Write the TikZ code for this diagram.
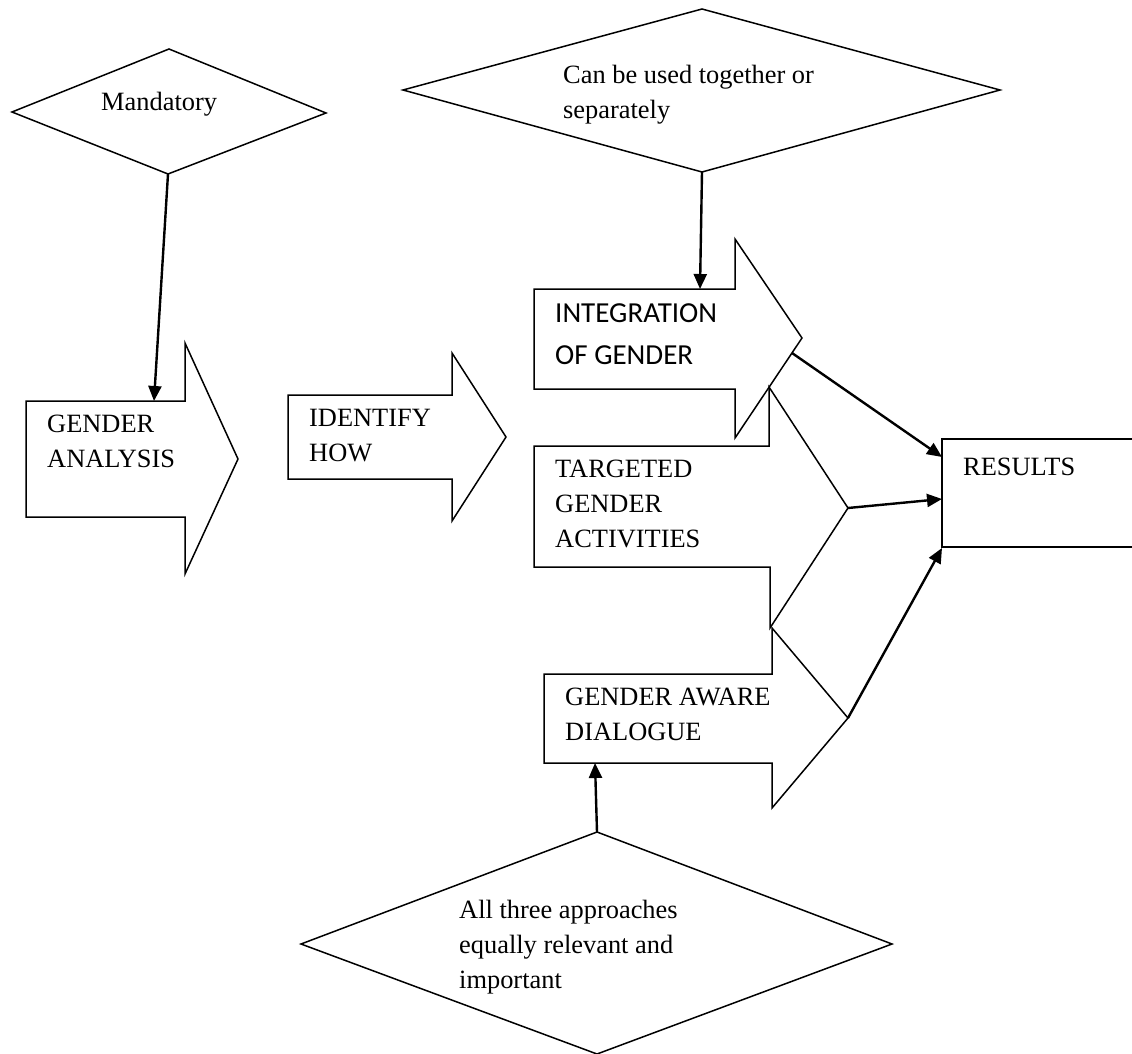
\documentclass[tikz,border=0pt]{standalone}
\usepackage{fontspec}
\setmainfont{Liberation Serif}
\newfontfamily\calib{Carlito}
\usetikzlibrary{arrows.meta}
\newcommand\twolines[2]{\vtop{\hbox{#1}\hbox{#2}}}
\newcommand\threelines[3]{\vtop{\hbox{#1}\hbox{#2}\hbox{#3}}}
\begin{document}
\begin{tikzpicture}[x=1pt,y=-1pt,
  outline/.style={draw=black, line width=1.5pt, line join=miter},
  conn/.style={draw=black, line width=2.4pt, -{Triangle[length=15pt,width=13pt]}},
  lbl/.style={anchor=base west, inner sep=0pt, font=\fontsize{26.4}{35}\selectfont},
  slbl/.style={anchor=base west, inner sep=0pt, font=\calib\fontsize{29}{42}\selectfont}]
\useasboundingbox (0,0) rectangle (1132,1054);

% ---- decision diamonds ----
\coordinate (mandB) at (168,174);
\draw[outline] (12,112) -- (169,49) -- (326,113) -- (mandB) -- cycle;
\node[lbl] (mand) at (101,111) {Mandatory};

\coordinate (canB) at (702,172);
\draw[outline] (403,90) -- (702,9) -- (1000,90) -- (canB) -- cycle;
\node[lbl] (can) at (563,84) {\twolines{Can be used together or}{separately}};

\coordinate (allT) at (597,832);
\draw[outline] (301,944) -- (allT) -- (892,944) -- (597,1054) -- cycle;
\node[lbl] (all) at (459,918) {\threelines{All three approaches}{equally relevant and}{important}};

% ---- block arrows ----
\coordinate (gaT) at (154,401);
\draw[outline] (26,401) -- (185,401) -- (185,343) -- (238,459) -- (185,574) -- (185,517) -- (26,517) -- cycle;
\node[lbl] (ga) at (47,432) {\twolines{GENDER}{ANALYSIS}};

\draw[outline] (288,395) -- (452,395) -- (452,353) -- (506,437) -- (452,521) -- (452,479) -- (288,479) -- cycle;
\node[lbl] (ih) at (309,426) {\twolines{IDENTIFY}{HOW}};

\coordinate (intT) at (700,289);
\coordinate (intE) at (792,353);
\draw[outline] (534,289) -- (735,289) -- (735,239) -- (802,338) -- (735,438) -- (735,389) -- (534,389) -- cycle;
\node[slbl] (int) at (555,322) {\twolines{INTEGRATION}{OF GENDER}};

\coordinate (tgtTip) at (848,508);
\draw[outline] (534,446) -- (769,446) -- (769,387) -- (tgtTip) -- (770,628) -- (770,567) -- (534,567) -- cycle;
\node[lbl] (tgt) at (555,477) {\threelines{TARGETED}{GENDER}{ACTIVITIES}};

\coordinate (gadTip) at (848,718);
\coordinate (gadB) at (595,763);
\draw[outline] (544,674) -- (772,674) -- (772,628) -- (gadTip) -- (772,808) -- (772,763) -- (544,763) -- cycle;
\node[lbl] (gad) at (565,705) {\twolines{GENDER AWARE}{DIALOGUE}};

% ---- results box (open to the right edge) ----
\coordinate (resA) at (942,457);
\coordinate (resB) at (942,499);
\coordinate (resC) at (942,548);
\draw[outline] (1132,439) -- (942,439) -- (942,547) -- (1132,547);
\node[lbl] (res) at (963,475) {RESULTS};

% ---- connectors ----
\draw[conn] (mandB) -- (gaT);
\draw[conn] (canB) -- (intT);
\draw[conn] (allT) -- (gadB);
\draw[conn] (intE) -- (resA);
\draw[conn] (tgtTip) -- (resB);
\draw[conn] (gadTip) -- (resC);
\end{tikzpicture}
\end{document}
